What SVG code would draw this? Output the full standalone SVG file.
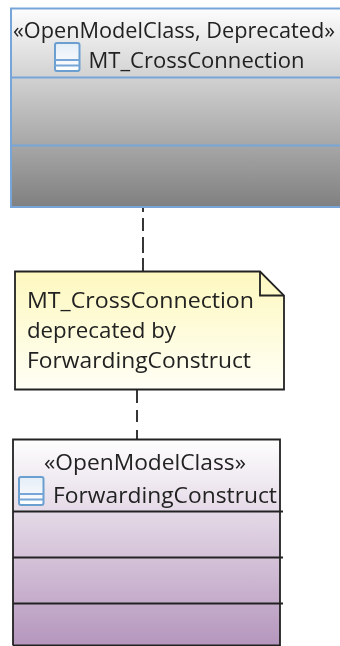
<svg xmlns="http://www.w3.org/2000/svg" width="340" height="646" viewBox="0 0 340 646">
<style>
text{font-family:"Open Sans","Noto Sans","Liberation Sans",sans-serif;font-size:21px;fill:#222;filter:url(#soft)}
.ln{stroke:#222;stroke-width:1.800;fill:none}
.bl{stroke:#77a5d8;stroke-width:2;fill:none}
.dash{stroke:#222;stroke-width:1.800;fill:none}
.ic{fill:url(#icon);stroke:#6a9fd0;stroke-width:2}
</style>
<defs>
<filter id="soft" x="-5%" y="-20%" width="110%" height="140%"><feGaussianBlur stdDeviation="0.35"/></filter>
<linearGradient id="grey" x1="0" y1="0" x2="0" y2="1"><stop offset="0" stop-color="#fdfdfd"/><stop offset="1" stop-color="#808080"/></linearGradient>
<linearGradient id="purple" x1="0" y1="0" x2="0" y2="1"><stop offset="0" stop-color="#fefefe"/><stop offset="1" stop-color="#b596bd"/></linearGradient>
<linearGradient id="note" x1="0" y1="0" x2="0" y2="1"><stop offset="0" stop-color="#fdf8bf"/><stop offset="1" stop-color="#fffff6"/></linearGradient>
<linearGradient id="icon" x1="0" y1="0" x2="0" y2="1"><stop offset="0" stop-color="#e4edf7"/><stop offset="1" stop-color="#ffffff"/></linearGradient>
</defs>
<rect width="340" height="646" fill="#fff"/>
<g id="connectors">
<path class="dash" d="M143 208V212M143 218V231M143 237V253M143 258V271"/>
<path class="dash" d="M137 390V403M137 410V422M137 430V439"/>
</g>
<g id="mt-crossconnection">
<rect x="11" y="8.500" width="340" height="198" fill="url(#grey)"/>
<path class="bl" d="M340 8.500H11V207H340M11 77.500H340M11 145.500H340"/>
<text x="13" y="38" textLength="322" lengthAdjust="spacingAndGlyphs">«OpenModelClass, Deprecated»</text>
<rect class="ic" x="55" y="43" width="24.500" height="28" rx="2"/>
<path class="bl" d="M55 60H79.500M55 65.500H79.500"/>
<text x="88.500" y="68" textLength="216" lengthAdjust="spacingAndGlyphs">MT_CrossConnection</text>
</g>
<g id="note-deprecated">
<path d="M15 271.500H260L284 295.500V389.500H15Z" class="ln" style="fill:url(#note)"/>
<path class="ln" d="M260 271.500V295.500H284"/>
<text x="27" y="308" textLength="227" lengthAdjust="spacingAndGlyphs">MT_CrossConnection</text>
<text x="27" y="338" textLength="149" lengthAdjust="spacingAndGlyphs">deprecated by</text>
<text x="27" y="368" textLength="224" lengthAdjust="spacingAndGlyphs">ForwardingConstruct</text>
</g>
<g id="forwarding-construct">
<rect x="13" y="439.500" width="267" height="206" fill="url(#purple)"/>
<path class="ln" d="M13 645.500V439.500H280V645.500H13M13 511.500H283M13 557.500H283M13 603.500H283"/>
<text x="44" y="470" textLength="202" lengthAdjust="spacingAndGlyphs">«OpenModelClass»</text>
<rect class="ic" x="19" y="477" width="24.500" height="28" rx="2"/>
<path class="bl" d="M19 494H43.500M19 499.500H43.500"/>
<text x="53" y="503" textLength="224" lengthAdjust="spacingAndGlyphs">ForwardingConstruct</text>
</g>
</svg>
